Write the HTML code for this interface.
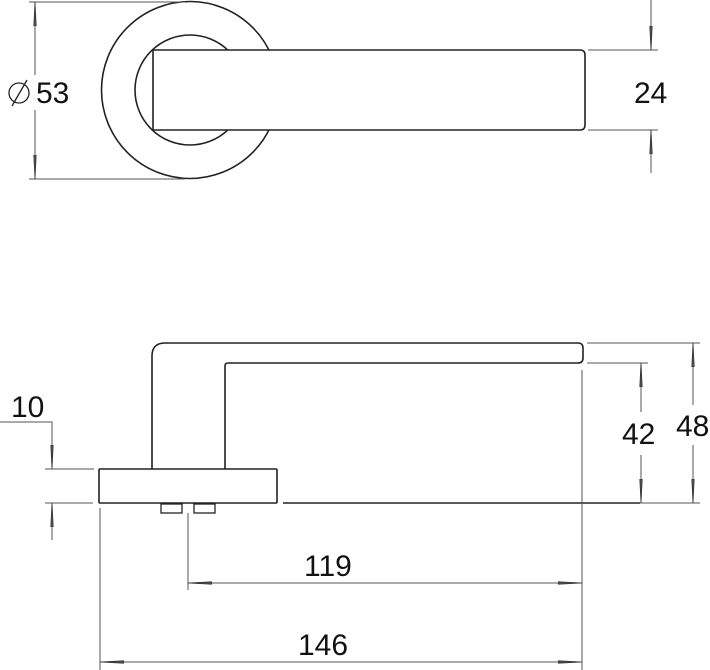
<!DOCTYPE html>
<html><head><meta charset="utf-8"><style>html,body{margin:0;padding:0;background:#fff}svg{display:block}</style></head><body>
<svg width="710" height="670" viewBox="0 0 710 670" xmlns="http://www.w3.org/2000/svg" font-family="Liberation Sans, sans-serif">
<defs>
<marker id="a" viewBox="0 0 24 6" refX="24" refY="3" markerWidth="24" markerHeight="6" markerUnits="userSpaceOnUse" orient="auto-start-reverse">
<path d="M0,1.8 L24,3 L0,4.2 Z" fill="#555" stroke="#333" stroke-width="0.8"/>
</marker>
</defs>
<g fill="none" stroke="#222" stroke-width="1.6">
<!-- top view -->
<circle cx="190" cy="90" r="88.5"/>
<circle cx="190" cy="90" r="55"/>
<path d="M153,50 H580 Q585,50 585,55 V125 Q585,130 580,130 H153 Z" fill="#fff"/>
<!-- side view handle -->
<path d="M152,469 V356 Q152,343 165,343 H578 Q583,343 583,348 V358 Q583,363 578,363 H228 Q225,363 225,366 V469"/>
<rect x="99" y="469" width="178" height="34" rx="1"/>
<rect x="161" y="504" width="21" height="9" stroke-width="1.3"/>
<rect x="194" y="504" width="21" height="9" stroke-width="1.3"/>
<line x1="283" y1="503" x2="640" y2="503"/>
</g>
<g fill="none" stroke="#555" stroke-width="1">
<line x1="29" y1="2" x2="185" y2="2"/>
<line x1="29" y1="179" x2="185" y2="179"/>
<line x1="35" y1="2" x2="35" y2="75" marker-start="url(#a)"/>
<line x1="35" y1="110" x2="35" y2="179" marker-end="url(#a)"/>
<line x1="588" y1="50" x2="658" y2="50"/>
<line x1="588" y1="130" x2="658" y2="130"/>
<line x1="651" y1="0" x2="651" y2="50" marker-end="url(#a)"/>
<line x1="651" y1="173" x2="651" y2="130" marker-end="url(#a)"/>
<polyline points="0,422 52,422 52,469" marker-end="url(#a)"/>
<line x1="45" y1="469" x2="94" y2="469"/>
<line x1="45" y1="503" x2="93" y2="503"/>
<line x1="52" y1="540" x2="52" y2="503" marker-end="url(#a)"/>
<line x1="587" y1="343" x2="700" y2="343"/>
<line x1="587" y1="363" x2="648" y2="363"/>
<line x1="640" y1="503" x2="700" y2="503"/>
<line x1="641" y1="363" x2="641" y2="412" marker-start="url(#a)"/>
<line x1="641" y1="455" x2="641" y2="503" marker-end="url(#a)"/>
<line x1="693" y1="343" x2="693" y2="405" marker-start="url(#a)"/>
<line x1="693" y1="445" x2="693" y2="503" marker-end="url(#a)"/>
<line x1="582" y1="370" x2="582" y2="670"/>
<line x1="188" y1="513" x2="188" y2="590"/>
<line x1="100" y1="508" x2="100" y2="670"/>
<line x1="188" y1="583" x2="582" y2="583" marker-start="url(#a)" marker-end="url(#a)"/>
<line x1="100" y1="662" x2="582" y2="662" marker-start="url(#a)" marker-end="url(#a)"/>
</g>
<g fill="#111" font-size="30">
<text x="36" y="103">53</text>
<text x="634" y="103">24</text>
<text x="11" y="417">10</text>
<text x="622" y="444">42</text>
<text x="676" y="436">48</text>
<text x="304" y="576">119</text>
<text x="298" y="655">146</text>
</g>
<g fill="none" stroke="#222" stroke-width="1.3">
<circle cx="19" cy="93" r="10"/>
<line x1="12" y1="106" x2="27" y2="80"/>
</g>
</svg>
</body></html>
